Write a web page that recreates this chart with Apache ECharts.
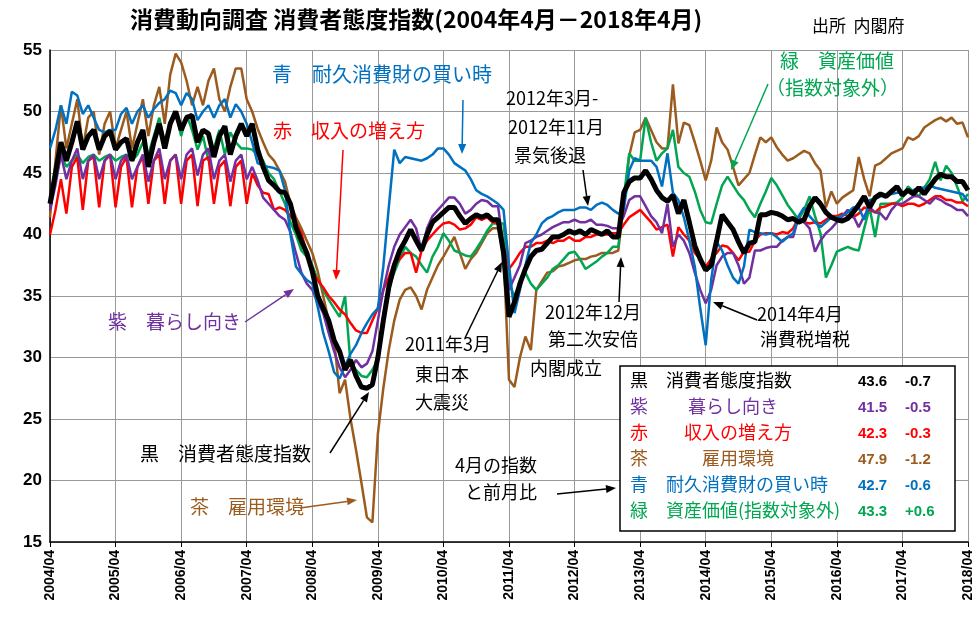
<!DOCTYPE html>
<html lang="ja">
<head>
<meta charset="UTF-8">
<title>消費者態度指数</title>
<script src="https://cdn.jsdelivr.net/npm/echarts@6/dist/echarts.min.js"></script>
<style>
  body { margin: 0; background: #fff; }
  #chart { width: 978px; height: 639px; }
</style>
</head>
<body>
<div id="chart"></div>
<script>
// months 2004/04 .. 2018/04, one row per fiscal year (Apr..Mar)
const black = [
  42.5,45,47.5,46,47.5,49.2,46.9,48,48.5,46.9,48,48.4,
  46.9,47.5,47.8,46,47.5,48.5,45.5,47.5,49,47,49,50,
  48.5,49.5,49.7,47.5,48.5,48.2,46.3,48,48.8,46.5,48,49,
  48,49,46.9,45.5,44.4,44,43.5,43.4,42.5,40.6,39.5,38.5,
  37,35,34,33,31.4,30.5,29,29.8,28.5,27.6,27.5,27.8,
  30,33,35.7,37.5,38.7,39.5,40.4,39.5,38.7,40,41,41.4,
  41.8,42.2,42.2,41.5,40.9,41.3,41.6,41.4,41.6,41.2,41.2,38.5,
  33.3,34.5,36,37.2,38.2,38.7,38.8,39.3,39.8,39.8,40,40.3,
  40.1,40.3,40,40.4,40.2,40,40.3,39.8,39.8,43.4,44.3,44.6,
  44.6,45.2,44.5,43.6,43,42.7,43.2,41.7,42.8,41,39.1,38,
  37.1,37.5,39.5,41.6,41,40.4,39.4,38.5,39.3,39.4,41.6,41.6,
  41.8,41.7,41.5,41.2,41.3,41,41.2,42.3,43,42.5,41.8,41.4,
  41.2,41.1,41.3,41.8,42.4,43.1,42.2,43,43.3,43.1,43.5,43.9,
  43.2,43.6,43.3,43.8,43.3,43.9,44.5,44.9,44.7,44.7,44.3,44.3,
  43.6
];
const purple = [
  42,44,46.5,44.5,46,47,44.5,46,46.5,44.5,46,46.5,
  44.5,46,46.5,44.5,45.5,46.5,44.3,46,47,44.5,46,46.5,
  44.5,46.5,47,44.8,46.5,47,44.5,46,46.5,44.3,46,46.5,
  44.5,45.5,44.4,43,42.5,42,41.5,41.2,40.2,38.5,36.9,36,
  35.5,34.5,33.6,32,30.5,29.2,28.4,29,29.8,29.2,29.5,30.5,
  33,35.5,37.5,39,40,40.6,41.2,40.5,38.7,40.5,41.5,42,
  42.5,43,43,42.5,41.7,42,42.5,42.8,42.7,42.3,42.3,39,
  35.5,36.5,37.5,39.3,39.5,39.8,40,40.3,40.6,40.8,41,41,
  41.2,41,41,41.2,40.8,40.8,40.7,40.5,40.5,41.5,42.8,43.1,
  43.1,42.3,41.5,41,40.1,42.5,39,40,39.5,38.5,36.9,35.5,
  34.4,35.5,37.5,38.2,38.5,38.5,37.5,36,36.5,38.7,38.7,38.9,
  39,39,39.5,39.8,39.8,41.4,41,40.5,38.6,39.5,40.1,40.5,
  41,41.5,42,41.5,40.6,41.5,42.2,41.8,41.7,41.2,42,42.5,
  42.5,42.8,43.1,43.1,42.8,42.5,43,42.8,42.5,42.3,42,42,
  41.5
];
const red = [
  40,42,44.5,41.7,45.5,46.3,42,46,46.3,42.2,46,46.5,
  42.2,45.5,46.3,42.2,45.5,46.3,42.5,46,46.5,42.5,46,46.5,
  42.5,46,46.5,42.3,46,46.3,42.5,45.5,46,42.3,45.5,46,
  42.5,45,44,43.4,43.3,42,42.2,42,41.5,41,40.1,38.5,
  37,36.3,35.7,35,34.5,33.9,33.5,32.8,32.2,32,32,33,
  34,35.5,36.5,37.7,38,38.5,38.5,36.9,38.7,39.5,40,40.5,
  40.9,41,40.8,40.4,40.5,40.8,41.4,41.2,41.4,41,41,39,
  37.2,37.8,38.5,39,39,39.3,39.3,39.5,39.3,39.5,39.5,39.8,
  39.5,39.5,39.8,39.8,40,40,40,40.1,40.1,40.8,41.4,41.7,
  42,41.5,41,40.4,40.6,40.8,38.2,40.6,40,39.5,38.5,38,
  37.4,38,38.5,39.1,39,38.5,37.9,38.6,38.6,39.5,40,40.1,
  40.1,40,40.2,40.1,40.5,41.4,41,40.9,41,40.9,41.2,41.5,
  41.5,41.7,41.5,41.4,41.7,42.2,42,41.8,42.2,42.3,42.5,42.5,
  42.3,42.5,42.5,42.3,42.5,42.8,43.1,43.1,42.8,42.8,42.6,42.6,
  42.3
];
const brown = [
  41.4,46,50.5,47,49,51,47,49.5,50,46.5,49,50,
  47,48.5,50,47,49,51,48,50.5,52,49,53,54.7,
  54,52.5,50.5,52,50.5,52.5,53.5,51,50,52,53.5,53.5,
  51,50,48.6,47.5,46.5,46,45.2,44.3,42.5,41.4,40.5,39.5,
  38.5,37,35,33,31.4,27.1,28.2,25,22.5,19.8,17,16.6,
  23.8,27.5,30.6,33,34.7,35.5,35.7,35,33.9,35.5,36.5,37.5,
  38.2,39,39.8,38.5,37.2,38,38.5,39.3,40.1,40.5,40.5,38.5,
  28.2,27.6,30,31.7,30.6,35.5,36.2,36.9,37,37.4,37.5,37.7,
  37.9,38,38,38.2,38.3,38.5,38.5,38.5,38.7,42.5,46.4,48.3,
  48.5,49.5,48.5,47.5,47,47,52.2,47.4,49.1,48.9,47.5,46,
  44.4,46,48.7,47.5,46.9,45.5,44,44.5,45,46.5,47.9,47.5,
  47.9,47.1,46.5,46,46.2,46.5,46.8,46.6,45.8,45.2,42.2,43.5,
  42.5,43,43.3,43.6,46.3,44.5,43.1,45.6,45.8,46.2,46.6,46.8,
  47,47.9,47.7,48,48.7,49,49.3,49.5,49.2,49.5,49,49.1,
  47.9
];
const blue = [
  47,48.5,50.5,49,51.6,51.3,49.8,50.5,49.5,48.5,48.3,48.5,
  48.5,49.8,50.3,49,50,50.5,49.5,50.2,50.7,51,51.7,51.5,
  50.5,51.5,51,49.3,50,50.5,49.5,50.5,51,49.5,50.6,50,
  49,47.5,45.8,45.6,45.5,45.4,45.2,43.6,40,37.4,36.8,36.3,
  36,34.1,32,30.5,28.8,28.3,29.3,30.3,31,32,32.8,33.5,
  34,37.4,42.2,46.9,45.8,46.3,46.2,46.1,46,46.2,46.5,47,
  47,46.5,45.8,45.5,45.2,44.5,43.6,43.3,43.1,42.8,42.5,42,
  37.5,33.6,35.5,37.5,39.3,40,40.9,41.3,41.5,41.8,42,42,
  42,42.2,42.2,42,42.4,42.6,42.4,42,41.7,42,45.2,46.2,
  46,46,46,45.5,43.9,46.6,43.4,42.8,41.4,39.5,37.4,34,
  31,36.3,39.4,38.7,37.5,36.5,36,37.4,40.4,40.2,40.1,40,
  40.1,39.8,39.4,39.8,40.1,41.5,42.2,41.5,41,40.6,41,41.4,
  41.4,41.5,41.8,42.2,42.2,41.2,42.8,42.9,43.1,43.2,43.3,43.4,
  43.4,43.5,43.6,43.8,43.8,44,43.8,43.7,43.6,43.5,43.4,43.3,
  42.7
];
const green = [
  42.5,44.5,46.5,45.5,46,46.5,45.8,46.3,46.5,46,46.3,46.5,
  46,46.3,46.5,46,46.5,47.5,46.5,48,49.5,47.5,49,50,
  48,49.7,48.5,46.9,48,46,47,48.5,46.5,48.3,47.5,47,
  47,46.9,46.5,46,45,44.5,43.5,42.5,41,40,38.7,38.2,
  37.5,36.3,35.5,34.7,34,33.3,35,29.5,29,28.5,28.4,29,
  29.8,33,35.7,36.9,38,39,38.5,38.2,37.5,36.9,38.2,39,
  40.1,39.5,38.7,38.5,38.3,38.2,38.8,39.5,40.3,40.9,40.9,40.9,
  36,35,36,36.9,36,35.5,36,36.5,37.2,37.5,38,38.5,
  38.6,38,37.2,37.5,37.8,38.2,38.5,39,39,43,46.6,46,
  46,49.5,47.5,46,46.6,47,48.5,45.5,45,44.7,43.5,42,
  41,40.9,42.5,44,44.7,44,43.3,42.8,42,41.4,42.5,43.5,
  44.6,44,43.2,42.4,41.8,41.2,42,43.1,41.5,40.1,36.5,37.5,
  38.6,38.8,39,38.8,38.7,40.5,42.2,39.8,42.5,42.5,42.5,42.6,
  43,43.9,43.5,43.1,43.8,44.5,45.9,44.4,45.6,45,43.9,42.7,
  43.3
];

const months = [];
for (let y = 2004; y <= 2018; y++) {
  for (let m = 1; m <= 12; m++) {
    if (y === 2004 && m < 4) continue;
    if (y === 2018 && m > 4) break;
    months.push(y + '/' + String(m).padStart(2, '0'));
  }
}

const C = { black: '#000000', purple: '#7030A0', red: '#FF0000', brown: '#9C5B1E', blue: '#0070C0', green: '#00A651' };
const FONT = '"Noto Sans CJK JP", sans-serif';

function arrow(x1, y1, x2, y2, color) {
  const a = Math.atan2(y2 - y1, x2 - x1), L = 10, W = 4;
  const bx = x2 - L * Math.cos(a), by = y2 - L * Math.sin(a);
  return [
    { type: 'line', shape: { x1: x1, y1: y1, x2: bx, y2: by }, style: { stroke: color, lineWidth: 1.5 }, z: 50 },
    { type: 'polygon', shape: { points: [[x2, y2], [bx - W * Math.sin(a), by + W * Math.cos(a)], [bx + W * Math.sin(a), by - W * Math.cos(a)]] }, style: { fill: color }, z: 50 }
  ];
}
function label(text, x, y, color, size) {
  return { type: 'text', left: x, top: y, z: 60,
    style: { text: text, fill: color, font: (size || 17) + 'px ' + FONT } };
}

const legendRows = [
  ['黒　消費者態度指数', '43.6', '-0.7', C.black],
  ['紫　　 暮らし向き', '41.5', '-0.5', C.purple],
  ['赤　　収入の増え方', '42.3', '-0.3', C.red],
  ['茶　　　雇用環境', '47.9', '-1.2', C.brown],
  ['青　耐久消費財の買い時', '42.7', '-0.6', C.blue],
  ['緑　資産価値(指数対象外)', '43.3', '+0.6', C.green]
];

const graphics = [
  { type: 'rect', shape: { x: 620, y: 366, width: 335, height: 165 }, style: { fill: '#fff', stroke: '#000', lineWidth: 1.5 }, z: 40 },
  label('青　耐久消費財の買い時', 272, 64, C.blue, 20),
  label('赤　収入の増え方', 273, 121, C.red, 19),
  label('緑　資産価値', 780, 51, C.green, 19),
  label('（指数対象外）', 766, 78, C.green, 19),
  label('2012年3月-', 506, 89, '#000', 18),
  label('2012年11月', 508, 118, '#000', 18),
  label('景気後退', 514, 146, '#000', 18),
  label('紫　暮らし向き', 108, 312, C.purple, 19),
  label('2011年3月', 405, 335, '#000', 18),
  label('東日本', 415, 365, '#000', 18),
  label('大震災', 415, 393, '#000', 18),
  label('2012年12月', 545, 303, '#000', 18),
  label('第二次安倍', 548, 330, '#000', 18),
  label('内閣成立', 530, 359, '#000', 18),
  label('2014年4月', 757, 305, '#000', 18),
  label('消費税増税', 760, 330, '#000', 18),
  label('黒　消費者態度指数', 140, 444, '#000', 19),
  label('4月の指数', 455, 456, '#000', 18),
  label('と前月比', 465, 483, '#000', 18),
  label('茶　雇用環境', 190, 497, C.brown, 19),
  { type: 'text', left: 130, top: 8, z: 60, style: { text: '消費動向調査 消費者態度指数(2004年4月－2018年4月)', fill: '#000', font: 'bold 23px ' + FONT } },
  { type: 'text', left: 812, top: 17, z: 60, style: { text: '出所  内閣府', fill: '#000', font: '17px ' + FONT } }
];
legendRows.forEach(function (r, i) {
  const y = 371 + i * 26;
  graphics.push(label(r[0], 630, y, r[3], 18));
  graphics.push({ type: 'text', left: 858, top: y + 3, z: 60, style: { text: r[1], fill: r[3], font: 'bold 15px "Liberation Sans", sans-serif' } });
  graphics.push({ type: 'text', left: 905, top: y + 3, z: 60, style: { text: r[2], fill: r[3], font: 'bold 15px "Liberation Sans", sans-serif' } });
});
[
  [463, 100, 462, 154, C.blue], [343, 150, 336, 280, C.red], [768, 84, 731, 170, C.green],
  [583, 170, 588, 206, '#000'], [245, 322, 294, 289, C.purple], [465, 338, 502, 262, '#000'],
  [619, 302, 621, 257, '#000'], [757, 320, 713, 302, '#000'], [330, 453, 369, 392, '#000'],
  [557, 494, 616, 488, '#000'], [300, 508, 357, 500, C.brown]
].forEach(function (a) { graphics.push.apply(graphics, arrow(a[0], a[1], a[2], a[3], a[4])); });

function series(name, data, color, width, z) {
  return { name: name, type: 'line', data: data, showSymbol: false, z: z,
    lineStyle: { color: color, width: width }, itemStyle: { color: color } };
}

const chart = echarts.init(document.getElementById('chart'));
chart.setOption({
  animation: false,
  grid: { left: 50, right: 10, top: 50, bottom: 97 },
  xAxis: {
    type: 'category', data: months, boundaryGap: false,
    axisLine: { lineStyle: { color: '#000', width: 1.5 } },
    axisTick: { interval: 11, lineStyle: { color: '#000' } },
    axisLabel: { interval: 11, rotate: 90, color: '#000', fontWeight: 'bold', fontSize: 14, fontFamily: 'Liberation Sans' },
    splitLine: { show: true, interval: 11, lineStyle: { color: '#999', width: 1 } }
  },
  yAxis: {
    type: 'value', min: 15, max: 55, interval: 5,
    axisLine: { show: true, lineStyle: { color: '#000', width: 1.5 } },
    axisTick: { show: false },
    axisLabel: { color: '#000', fontWeight: 'bold', fontSize: 17, fontFamily: 'Liberation Sans', margin: 8 },
    splitLine: { lineStyle: { color: '#999', width: 1 } }
  },
  series: [
    series('茶', brown, C.brown, 2.5, 2),
    series('緑', green, C.green, 2.5, 3),
    series('赤', red, C.red, 2.5, 4),
    series('紫', purple, C.purple, 2.5, 5),
    series('青', blue, C.blue, 2.5, 6),
    series('黒', black, C.black, 5, 7)
  ],
  graphic: graphics
});
</script>
</body>
</html>
